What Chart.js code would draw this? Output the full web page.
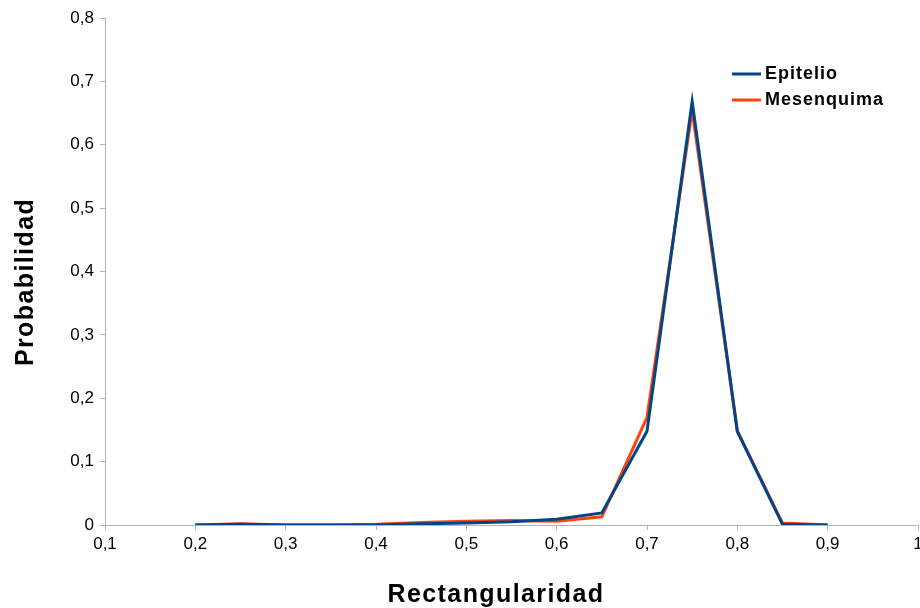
<!DOCTYPE html>
<html>
<head>
<meta charset="utf-8">
<script src="https://cdn.jsdelivr.net/npm/chart.js@4/dist/chart.umd.min.js"></script>
<style>
  html, body { margin: 0; padding: 0; background: #fff; }
  #wrap { width: 920px; height: 608px; }
</style>
</head>
<body>
<div id="wrap"><canvas id="chart"></canvas></div>
<script>
const xValues = [0.2, 0.25, 0.3, 0.35, 0.4, 0.45, 0.5, 0.55, 0.6, 0.65, 0.7, 0.75, 0.8, 0.85, 0.9];
const epitelio = [0, 0.001, 0, 0, 0, 0.002, 0.003, 0.005, 0.009, 0.019, 0.148, 0.668, 0.148, 0.001, 0];
const mesenquima = [0, 0.002, 0, 0, 0.001, 0.004, 0.006, 0.007, 0.006, 0.013, 0.17, 0.654, 0.148, 0.003, 0];
const seriesNames = ["Epitelio", "Mesenquima"];
const seriesColors = ["#004586", "#ff420e"];
const xTitle = "Rectangularidad";
const yTitle = "Probabilidad";

function fmt(v) {
  if (Math.abs(v) < 1e-9) return "0";
  if (Math.abs(v - 1) < 1e-9) return "1";
  return v.toFixed(1).replace(".", ",");
}

function toPoints(ys) {
  return xValues.map((x, i) => ({ x: x, y: ys[i] }));
}

const fontFamily = "'Liberation Sans', Arial, sans-serif";

// legend in the top right corner plus the two axis titles
const textPlugin = {
  id: "extraText",
  afterDraw(chart) {
    const ctx = chart.ctx;
    ctx.save();
    ctx.letterSpacing = "1px";
    ctx.font = "bold 18px " + fontFamily;
    ctx.textBaseline = "middle";
    ctx.textAlign = "left";
    chart.data.datasets.forEach((ds, i) => {
      const y = 74 + i * 26;
      ctx.strokeStyle = ds.borderColor;
      ctx.lineWidth = 3;
      ctx.beginPath();
      ctx.moveTo(732, y);
      ctx.lineTo(761, y);
      ctx.stroke();
      ctx.fillStyle = "#000";
      ctx.fillText(ds.label, 765, y);
    });

    ctx.letterSpacing = "1.4px";
    ctx.font = "bold 25px " + fontFamily;
    ctx.textAlign = "center";
    ctx.textBaseline = "alphabetic";
    ctx.fillText(xTitle, 496, 602);

    ctx.translate(33, 282);
    ctx.rotate(-Math.PI / 2);
    ctx.fillText(yTitle, 0, 0);
    ctx.restore();
  }
};

const tickFont = { family: fontFamily, size: 17 };

new Chart(document.getElementById("chart"), {
  type: "line",
  data: {
    datasets: [
      { label: seriesNames[0], data: toPoints(epitelio), borderColor: seriesColors[0], backgroundColor: seriesColors[0] },
      { label: seriesNames[1], data: toPoints(mesenquima), borderColor: seriesColors[1], backgroundColor: seriesColors[1] }
    ]
  },
  options: {
    responsive: true,
    maintainAspectRatio: false,
    animation: false,
    layout: { padding: { top: 18, right: 2, left: 0, bottom: 0 } },
    elements: {
      line: { borderWidth: 3, tension: 0 },
      point: { radius: 0, hoverRadius: 0 }
    },
    plugins: { legend: { display: false }, tooltip: { enabled: false } },
    scales: {
      x: {
        type: "linear",
        min: 0.1,
        max: 1,
        afterFit(scale) { scale.height = 83; scale.paddingLeft = 0; scale.paddingRight = 0; },
        ticks: { stepSize: 0.1, color: "#000", font: tickFont, padding: 4, maxRotation: 0, callback: v => fmt(v) },
        grid: { drawOnChartArea: false, color: "#b3b3b3", tickLength: 5 },
        border: { color: "#b3b3b3" }
      },
      y: {
        min: 0,
        max: 0.8,
        afterFit(scale) { scale.width = 105; scale.paddingTop = 0; scale.paddingBottom = 0; },
        ticks: { stepSize: 0.1, color: "#000", font: tickFont, padding: 6, callback: v => fmt(v) },
        grid: { drawOnChartArea: false, color: "#b3b3b3", tickLength: 5 },
        border: { color: "#b3b3b3" }
      }
    }
  },
  plugins: [textPlugin]
});
</script>
</body>
</html>
